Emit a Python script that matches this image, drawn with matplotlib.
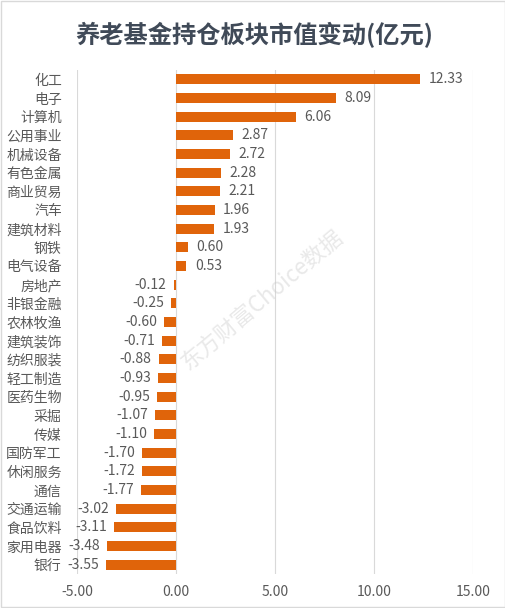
import matplotlib.pyplot as plt
from matplotlib.patches import Rectangle

plt.rcParams['font.family'] = ['Noto Sans CJK SC', 'DejaVu Sans']

# 数据
sectors = ['化工', '电子', '计算机', '公用事业', '机械设备', '有色金属', '商业贸易', '汽车',
           '建筑材料', '钢铁', '电气设备', '房地产', '非银金融', '农林牧渔', '建筑装饰',
           '纺织服装', '轻工制造', '医药生物', '采掘', '传媒', '国防军工', '休闲服务',
           '通信', '交通运输', '食品饮料', '家用电器', '银行']
values = [12.33, 8.09, 6.06, 2.87, 2.72, 2.28, 2.21, 1.96, 1.93, 0.60, 0.53, -0.12,
          -0.25, -0.60, -0.71, -0.88, -0.93, -0.95, -1.07, -1.10, -1.70, -1.72, -1.77,
          -3.02, -3.11, -3.48, -3.55]
xticks = [-5, 0, 5, 10, 15]

bar_color = '#E0640A'
text_color = '#595959'

fig = plt.figure(figsize=(5.06, 6.08), dpi=100)
ax = fig.add_axes([77 / 506, 1 - 574 / 608, (473 - 77) / 506, (574 - 70) / 608])

pos = list(range(len(sectors)))
ax.barh(pos, values, height=0.52, color=bar_color, zorder=3)
ax.set_ylim(len(sectors) - 0.5, -0.5)
ax.set_xlim(-5, 15)
ax.set_xticks(xticks)
ax.set_xticklabels(['%.2f' % t for t in xticks], fontsize=10, color=text_color)
ax.set_yticks(pos)
ax.set_yticklabels(sectors, fontsize=10, color=text_color)
ax.tick_params(axis='both', length=0)
ax.tick_params(axis='y', pad=11)
ax.tick_params(axis='x', pad=8)
ax.grid(axis='x', color='#D9D9D9', linewidth=0.8, zorder=0)
for s in ax.spines.values():
    s.set_visible(False)

for p, v in zip(pos, values):
    if v >= 0:
        ax.annotate('%.2f' % v, (v, p), xytext=(6, 0), textcoords='offset points',
                    ha='left', va='center', fontsize=10, color=text_color, zorder=4)
    else:
        ax.annotate('%.2f' % v, (v, p), xytext=(-5, 0), textcoords='offset points',
                    ha='right', va='center', fontsize=10, color=text_color, zorder=4)

fig.text(254 / 506, 1 - 35 / 608, '养老基金持仓板块市值变动(亿元)', ha='center', va='center',
         fontsize=17.5, fontweight='bold', color='#404A58')

# 水印
fig.text(262 / 506, 1 - 300 / 608, '东方财富Choice数据', ha='center', va='center',
         rotation=40, fontsize=16, color='#C8C8C8', alpha=0.4, zorder=10)

fig.patches.append(Rectangle((0.002, 0.002), 0.996, 0.996, transform=fig.transFigure,
                             fill=False, edgecolor='#D9D9D9', linewidth=1))

fig.savefig('out.png', dpi=100, facecolor='white')
